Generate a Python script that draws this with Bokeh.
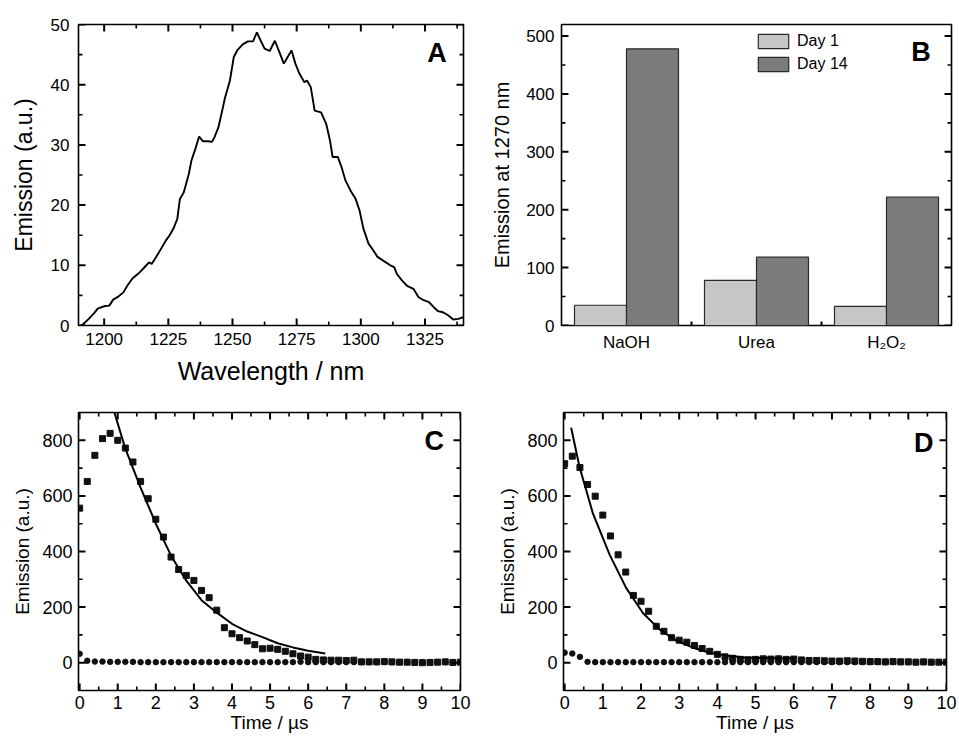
from bokeh.plotting import figure
from bokeh.models import Range1d, FixedTicker, Legend, LegendItem, ColumnDataSource
from bokeh.layouts import row, column
from bokeh.core.properties import value
from bokeh.embed import file_html
from bokeh.resources import INLINE

FONT = "Liberation Sans"

# ---------------- Panel A: emission spectrum ----------------
a_wavelength = [1191, 1192, 1194, 1196, 1197.5, 1200, 1202, 1203.5, 1205.5, 1207.5, 1209, 1211,
                1213, 1214, 1216, 1217.5, 1218.5, 1220, 1221, 1222.5, 1224, 1225.5, 1227, 1228.5,
                1229.5, 1231, 1233, 1234, 1235.5, 1237, 1238.5, 1240.5, 1242, 1243, 1244.5, 1246,
                1247, 1249, 1250.5, 1252, 1254, 1256, 1258, 1259.5, 1261, 1262.5, 1264.5, 1266.5,
                1268, 1270, 1271.5, 1273, 1274.5, 1276, 1278, 1279, 1280.5, 1282, 1284.5, 1286.5,
                1288, 1289, 1291, 1292.5, 1294, 1296, 1298, 1299.5, 1301, 1303, 1304.5, 1306.5,
                1309, 1311.5, 1313, 1314, 1316, 1318, 1320.5, 1322.5, 1324.5, 1326.5, 1328.5,
                1330, 1332, 1334, 1336, 1338, 1340]
a_emission = [0.0, 0.3, 1.1, 2.0, 2.8, 3.2, 3.3, 4.3, 4.8, 5.5, 6.6, 7.8,
              8.5, 8.9, 9.8, 10.5, 10.2, 11.2, 11.9, 13.0, 14.1, 15.0, 16.1, 17.7,
              21.0, 22.1, 25.2, 27.4, 29.3, 31.4, 30.6, 30.6, 30.5, 31.3, 32.9, 35.7,
              37.7, 40.7, 44.6, 45.8, 46.7, 47.2, 47.2, 48.7, 47.3, 46.0, 45.6, 47.3,
              45.7, 43.5, 44.6, 45.7, 43.5, 41.9, 40.4, 40.7, 39.6, 35.7, 35.4, 33.5,
              30.7, 28.0, 28.0, 26.3, 24.1, 22.4, 21.0, 19.1, 16.1, 13.6, 12.7, 11.4,
              10.7, 10.0, 9.7, 8.6, 7.5, 6.6, 6.1, 4.7, 4.2, 3.9, 3.0,
              2.4, 2.2, 1.7, 1.0, 1.1, 1.4]
a_xticks = [1200, 1225, 1250, 1275, 1300, 1325]
a_xminor = [1212.5, 1237.5, 1262.5, 1287.5, 1312.5, 1337.5]
a_yticks = [0, 10, 20, 30, 40, 50]
a_yminor = [5, 15, 25, 35, 45]

# ---------------- Panel B: bars ----------------
b_categories = ["NaOH", "Urea", "H\u2082O\u2082"]
b_day1 = [35, 78, 33]
b_day14 = [478, 118, 222]
b_yticks = [0, 100, 200, 300, 400, 500]
b_yminor = [50, 150, 250, 350, 450]

# ---------------- Panels C and D: decays ----------------
t_points = [round(0.2 * i, 1) for i in range(51)]  # sampling grid 0..10 us
t_xticks = [0, 1, 2, 3, 4, 5, 6, 7, 8, 9, 10]
t_xminor = [0.5, 1.5, 2.5, 3.5, 4.5, 5.5, 6.5, 7.5, 8.5, 9.5]
e_yticks = [0, 200, 400, 600, 800]
e_yminor = [100, 300, 500, 700]

c_squares = [556, 652, 746, 806, 825, 800, 772, 722, 652, 590, 516, 452, 380, 335, 314, 296,
             260, 234, 189, 126, 104, 90, 78, 65, 50, 52, 48, 41, 32, 24, 20, 12, 10, 9, 9,
             8, 9, 3, 3, 3, 4, 3, 2, 2, 1, 0, 1, 2, 3, 1, 2]
c_circles = [32, 7, 4, 4, 3, 3, 3, 3, 2, 2, 2, 2, 2, 2, 2, 2, 2, 2, 2, 2, 2, 2, 2, 2, 2, 2,
             2, 2, 2, 3, 2, 2, 2, 2, 2, 2, 2, 2, 2, 2, 2, 2, 2, 2, 2, 2, 2, 2, 2, 2, 2]
c_fit_t = [0.88, 1.2, 1.6, 2.0, 2.4, 2.8, 3.2, 3.6, 4.0, 4.4, 4.8, 5.2, 5.6, 6.0, 6.45]
c_fit_e = [915, 770, 630, 500, 385, 295, 225, 180, 140, 112, 92, 70, 55, 43, 33]

d_squares = [716, 743, 702, 641, 599, 531, 456, 388, 326, 242, 221, 185, 131, 113, 90, 81,
             74, 62, 51, 41, 30, 21, 16, 12, 10, 12, 14, 13, 14, 12, 13, 10, 8, 8, 7, 6, 6,
             7, 6, 5, 4, 4, 3, 4, 3, 3, 2, 3, 2, 2, 2]
d_circles = [36, 33, 21, 3, 2, 2, 2, 2, 2, 2, 2, 2, 2, 2, 2, 2, 2, 2, 2, 2, 2, 2, 2, 2, 2, 2,
             2, 2, 2, 2, 2, 2, 2, 2, 2, 2, 2, 2, 2, 2, 2, 2, 2, 2, 2, 2, 2, 2, 2, 2, 2]
d_fit_t = [0.17, 0.39, 0.74, 1.18, 1.61, 2.05, 2.49, 2.92, 3.36, 3.8, 4.23, 4.67, 4.97, 5.5, 6.0]
d_fit_e = [845, 704, 537, 388, 269, 179, 119, 80, 54, 36, 26, 20, 18, 16, 15]


def base_fig(width, height, x_range, y_range, left, right, top, bottom):
    p = figure(width=width, height=height, x_range=x_range, y_range=y_range,
               output_backend="svg", toolbar_location=None,
               min_border_left=left, min_border_right=right,
               min_border_top=top, min_border_bottom=bottom)
    p.xgrid.visible = False
    p.ygrid.visible = False
    p.outline_line_color = "black"
    p.outline_line_width = 1.6
    p.outline_line_alpha = 1.0
    p.background_fill_color = "white"
    p.border_fill_color = "white"
    # frame size in pixels, used to turn tick lengths into data units
    p.tags = [width - left - right, height - top - bottom]
    return p


def style_axis(ax, size):
    ax.axis_line_color = None
    ax.major_tick_line_color = None
    ax.minor_tick_line_color = None
    ax.major_tick_in = 0
    ax.major_tick_out = 0
    ax.major_label_text_font = FONT
    ax.major_label_text_font_size = size
    ax.major_label_text_color = "black"
    ax.axis_label_text_font = FONT
    ax.axis_label_text_font_style = "normal"
    ax.axis_label_text_color = "black"


def frame_ticks(p, xt, xm, yt, ym, top=True, xlen=(7, 4)):
    """Inward tick marks on all frame edges, drawn as short segments."""
    x0, x1 = p.x_range.start, p.x_range.end
    y0, y1 = p.y_range.start, p.y_range.end
    fw, fh = p.tags
    dx = (x1 - x0) / fw
    dy = (y1 - y0) / fh
    for ticks, ln, lw in ((xt, xlen[0], 2.0), (xm, xlen[1], 1.6),
                          (yt, 7, 2.0), (ym, 4, 1.6)):
        if not ticks:
            continue
        xs0, ys0, xs1, ys1 = [], [], [], []
        horizontal_edge = ticks is xt or ticks is xm
        for t in ticks:
            if horizontal_edge:
                xs0.append(t); ys0.append(y0); xs1.append(t); ys1.append(y0 + ln * dy)
                if top:
                    xs0.append(t); ys0.append(y1); xs1.append(t); ys1.append(y1 - ln * dy)
            else:
                xs0.append(x0); ys0.append(t); xs1.append(x0 + ln * dx); ys1.append(t)
                xs0.append(x1); ys0.append(t); xs1.append(x1 - ln * dx); ys1.append(t)
        p.segment(x0=xs0, y0=ys0, x1=xs1, y1=ys1, line_color="black", line_width=lw)


# ---- A ----
pA = base_fig(488, 390, Range1d(1190, 1340), Range1d(0, 50), 78, 25, 24, 65)
pA.xaxis.ticker = FixedTicker(ticks=a_xticks)
pA.yaxis.ticker = FixedTicker(ticks=a_yticks)
style_axis(pA.xaxis[0], "17px")
style_axis(pA.yaxis[0], "17px")
pA.xaxis.axis_label = "Wavelength / nm"
pA.yaxis.axis_label = "Emission (a.u.)"
pA.xaxis.axis_label_text_font_size = "25px"
pA.yaxis.axis_label_text_font_size = "23px"
pA.xaxis.major_label_standoff = 7
pA.yaxis.major_label_standoff = 9
pA.xaxis.axis_label_standoff = 9
pA.yaxis.axis_label_standoff = 11
pA.line(a_wavelength, a_emission, line_color="black", line_width=1.9)
frame_ticks(pA, a_xticks, a_xminor, a_yticks, a_yminor)
pA.text(x=[1333.5], y=[45.3], text=["A"], text_font=value(FONT), text_font_style="bold",
        text_font_size="27px", text_align="right", text_baseline="middle", text_color="black")

# ---- B ---- (category i occupies [i, i+1] on a numeric axis)
b_centers = [i + 0.5 for i in range(len(b_categories))]
srcB = ColumnDataSource(dict(x1=[c - 0.2 for c in b_centers], x14=[c + 0.2 for c in b_centers],
                             day1=b_day1, day14=b_day14))
pB = base_fig(471, 390, Range1d(0, len(b_categories)), Range1d(0, 520), 71, 8, 23, 64)
pB.xaxis.ticker = FixedTicker(ticks=b_centers)
pB.xaxis.major_label_overrides = {c: name for c, name in zip(b_centers, b_categories)}
pB.yaxis.ticker = FixedTicker(ticks=b_yticks)
style_axis(pB.xaxis[0], "17px")
style_axis(pB.yaxis[0], "17px")
pB.xaxis.major_label_standoff = 7
pB.yaxis.major_label_standoff = 7
pB.yaxis.axis_label = "Emission at 1270 nm"
pB.yaxis.axis_label_text_font_size = "20px"
pB.yaxis.axis_label_standoff = 10
r1 = pB.vbar(x="x1", top="day1", width=0.4, bottom=0, source=srcB,
             fill_color="#c6c6c6", line_color="#2a2a2a", line_width=1.2)
r2 = pB.vbar(x="x14", top="day14", width=0.4, bottom=0, source=srcB,
             fill_color="#7c7c7c", line_color="#2a2a2a", line_width=1.2)
b_bounds = [1, 2]  # small ticks between the category groups
frame_ticks(pB, b_bounds, [], b_yticks, b_yminor, top=False, xlen=(4, 2))
leg = Legend(items=[LegendItem(label="Day 1", renderers=[r1]),
                    LegendItem(label="Day 14", renderers=[r2])],
             location=(193, 252))
leg.glyph_width = 38
leg.glyph_height = 18
leg.label_standoff = 5
leg.spacing = 5
leg.padding = 0
leg.margin = 0
leg.border_line_color = None
leg.background_fill_alpha = 0
leg.label_text_font = FONT
leg.label_text_font_size = "16px"
leg.label_text_color = "black"
pB.add_layout(leg)
pB.text(x=[2.84], y=[472], text=["B"], text_font=value(FONT), text_font_style="bold",
        text_font_size="27px", text_align="right", text_baseline="middle", text_color="black")


# ---- C and D ----
def decay_fig(left, right, top, squares, circles, fit_t, fit_e, letter, lx, ly, width):
    p = base_fig(width, 346, Range1d(-0.03, 10.0), Range1d(-100, 900), left, right, top, 46)
    p.xaxis.ticker = FixedTicker(ticks=t_xticks)
    p.yaxis.ticker = FixedTicker(ticks=e_yticks)
    style_axis(p.xaxis[0], "18px")
    style_axis(p.yaxis[0], "18px")
    p.xaxis.major_label_standoff = 5
    p.yaxis.major_label_standoff = 6
    p.xaxis.axis_label = "Time / \u00b5s"
    p.yaxis.axis_label = "Emission (a.u.)"
    p.xaxis.axis_label_text_font_size = "19px"
    p.yaxis.axis_label_text_font_size = "19px"
    p.xaxis.axis_label_standoff = 0
    p.yaxis.axis_label_standoff = 6
    p.scatter(t_points, circles, marker="circle", size=5.5, fill_color="#111111",
              line_color="#111111")
    p.scatter(t_points, squares, marker="square", size=6, fill_color="#111111",
              line_color="#111111")
    p.line(fit_t, fit_e, line_color="black", line_width=2.0)
    frame_ticks(p, t_xticks, t_xminor, e_yticks, e_yminor)
    p.text(x=[lx], y=[ly], text=[letter], text_font=value(FONT), text_font_style="bold",
           text_font_size="27px", text_align="right", text_baseline="middle",
           text_color="black")
    return p


pC = decay_fig(78, 28, 22, c_squares, c_circles, c_fit_t, c_fit_e, "C", 9.57, 796, 488)
pD = decay_fig(75, 13, 21, d_squares, d_circles, d_fit_t, d_fit_e, "D", 9.66, 791, 471)

layout = column(row(pA, pB), row(pC, pD))
open("out.html", "w").write(file_html(layout, INLINE))
